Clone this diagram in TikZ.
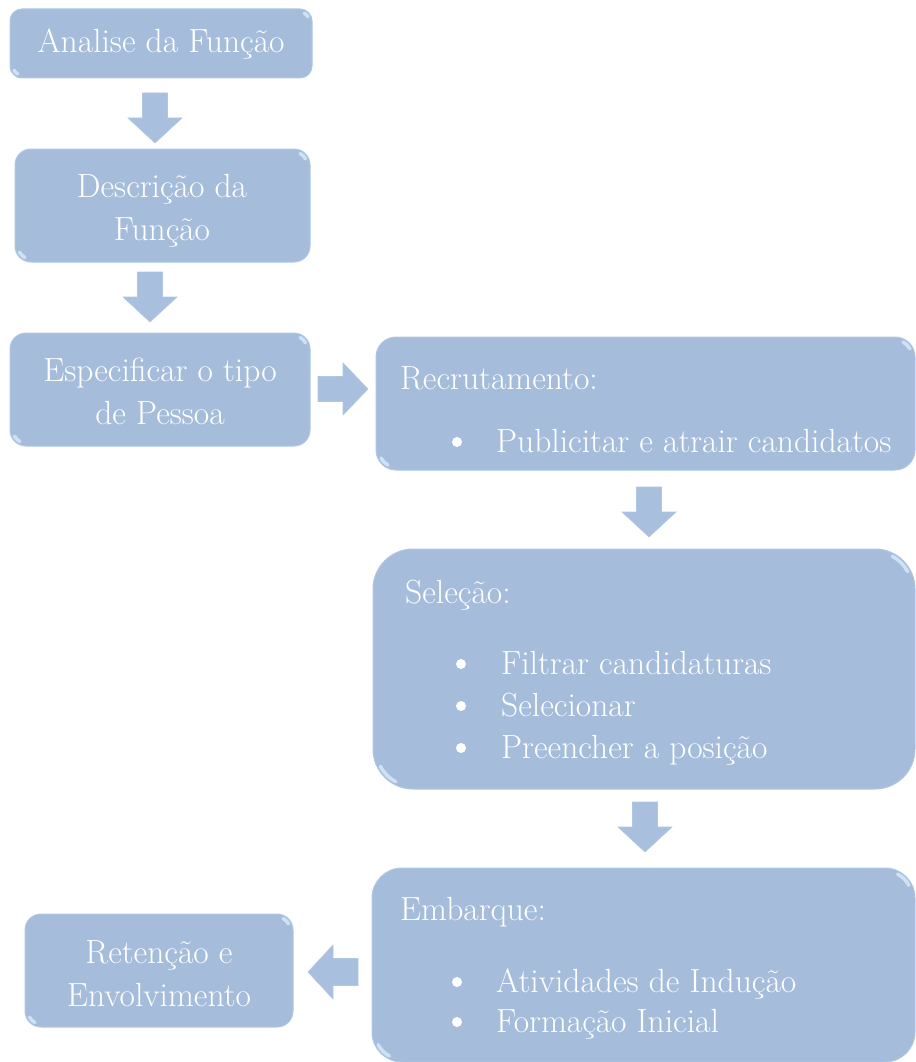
\documentclass[tikz,border=0pt]{standalone}
\usepackage{fontspec}
\definecolor{boxblue}{RGB}{165,189,219}
\definecolor{boxedge}{RGB}{176,199,228}
\definecolor{glow}{RGB}{214,232,250}
\definecolor{arrowblue}{RGB}{168,192,222}
\begin{document}
\begin{tikzpicture}[x=1pt,y=-1pt,
  box/.style={draw=boxedge, fill=boxblue, line width=1pt, rounded corners=#1},
  txt/.style={text=white, font=\fontsize{33.5}{43}\selectfont, inner sep=0pt},
  dot/.style={circle, fill=white, inner sep=0pt, minimum size=10pt},
  barrow/.style={fill=arrowblue, draw=boxedge, line width=0.6pt},
  shine/.style={draw=glow, line width=3.5pt, line cap=round, opacity=0.85}
]
\useasboundingbox (0,0) rectangle (915,1062);

% boxes: corner coords and radius
\newcommand\gbox[6]{%
  \draw[box=#6] (#2,#3) rectangle (#4,#5);
  \coordinate (#1) at ({(#2+#4)/2},{(#3+#5)/2});
  \draw[shine] ({#4-#6},{#3+#6}) ++(-62:{#6-3}) arc[start angle=-62, end angle=-28, radius={#6-3}];
  \draw[shine] ({#2+#6},{#5-#6}) ++(118:{#6-3}) arc[start angle=118, end angle=152, radius={#6-3}];
}
\gbox{b1}{10}{9}{312}{78}{12}
\gbox{b2}{15}{149}{310}{262}{16}
\gbox{b3}{10}{333}{310}{446}{16}
\gbox{b4}{376}{337}{915}{470}{20}
\gbox{b5}{373}{549}{915}{789}{40}
\gbox{b6}{372}{868}{915}{1062}{30}
\gbox{b7}{25}{914}{293}{1027}{16}

% block arrows
\newcommand\downarr[3]{% name, cx, top
  \coordinate (#1) at (#2,#3);
  \draw[barrow] (#2-12.5,#3) -- (#2+12.5,#3) -- (#2+12.5,#3+25) -- (#2+27,#3+25)
    -- (#2,#3+50) -- (#2-27,#3+25) -- (#2-12.5,#3+25) -- cycle;}
\downarr{a1}{155}{93}
\downarr{a2}{150}{272}
\downarr{a4}{649}{487}
\downarr{a5}{645}{802}
% right arrow
\coordinate (a3) at (318,389);
\draw[barrow] (318,376.5) -- (343,376.5) -- (343,363) -- (368,389) -- (343,415)
  -- (343,401.5) -- (318,401.5) -- cycle;
% left arrow
\coordinate (a6) at (358,972);
\draw[barrow] (358,958.5) -- (333,958.5) -- (333,945) -- (308,972) -- (333,999)
  -- (333,985.5) -- (358,985.5) -- cycle;

% texts
\node[txt, anchor=base] (t1) at (161,53) {Analise da Função};
\node[txt, anchor=base] (t2a) at (162,197) {Descrição da};
\node[txt, anchor=base] (t2b) at (162,240) {Função};
\node[txt, anchor=base] (t3a) at (160,381) {Especificar o tipo};
\node[txt, anchor=base] (t3b) at (160,424) {de Pessoa};
\node[txt, anchor=base] (t7a) at (159,963) {Retenção e};
\node[txt, anchor=base] (t7b) at (159,1006) {Envolvimento};

\node[txt, anchor=base west] (h4) at (400,389) {Recrutamento:};
\node[dot] (d41) at (457,442) {};
\node[txt, anchor=base west] (i41) at (496,452) {Publicitar e atrair candidatos};

\node[txt, anchor=base west] (h5) at (405,603) {Seleção:};
\node[dot] (d51) at (461,664) {};
\node[txt, anchor=base west] (i51) at (501,674) {Filtrar candidaturas};
\node[dot] (d52) at (461,706) {};
\node[txt, anchor=base west] (i52) at (501,716) {Selecionar};
\node[dot] (d53) at (461,748) {};
\node[txt, anchor=base west] (i53) at (501,758) {Preencher a posição};

\node[txt, anchor=base west] (h6) at (400,920) {Embarque:};
\node[dot] (d61) at (457,982) {};
\node[txt, anchor=base west] (i61) at (496,992) {Atividades de Indução};
\node[dot] (d62) at (457,1022) {};
\node[txt, anchor=base west] (i62) at (496,1032) {Formação Inicial};
\end{tikzpicture}
\end{document}
